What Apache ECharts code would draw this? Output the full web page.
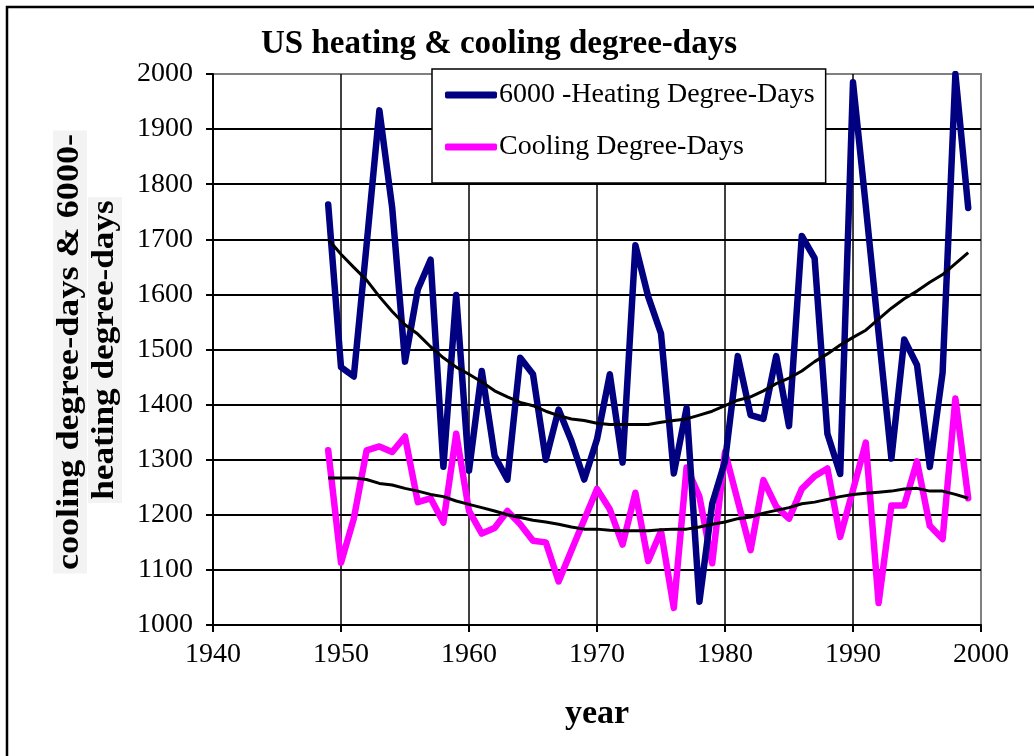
<!DOCTYPE html>
<html><head><meta charset="utf-8">
<script src="https://cdn.jsdelivr.net/npm/echarts@6/dist/echarts.min.js"></script>
<style>html,body{margin:0;padding:0;background:#fff}#c{width:1034px;height:756px}</style>
</head><body><div id="c"></div>
<script>
const years = [1949,1950,1951,1952,1953,1954,1955,1956,1957,1958,1959,1960,1961,1962,1963,1964,1965,1966,1967,1968,1969,1970,1971,1972,1973,1974,1975,1976,1977,1978,1979,1980,1981,1982,1983,1984,1985,1986,1987,1988,1989,1990,1991,1992,1993,1994,1995,1996,1997,1998,1999];
const heating = [1763,1468,1451,1690,1934,1757,1478,1609,1663,1287,1599,1280,1461,1307,1264,1485,1455,1300,1391,1334,1264,1337,1455,1295,1689,1596,1529,1275,1394,1042,1220,1297,1488,1381,1374,1488,1361,1706,1666,1347,1274,1985,1760,1530,1302,1518,1472,1287,1458,2000,1757];
const cooling = [1317,1113,1193,1317,1324,1314,1342,1223,1230,1186,1347,1207,1166,1176,1207,1183,1153,1150,1079,1135,1191,1247,1210,1146,1240,1116,1170,1031,1286,1233,1112,1314,1225,1136,1263,1215,1193,1247,1270,1284,1160,1245,1331,1040,1217,1217,1297,1180,1156,1411,1230];
const heatingTrend = [1700,1673,1649,1626,1596,1569,1545,1528,1505,1485,1468,1455,1441,1425,1414,1404,1398,1388,1380,1374,1371,1366,1364,1364,1364,1364,1368,1371,1374,1381,1388,1398,1408,1414,1425,1438,1448,1461,1478,1492,1508,1522,1535,1555,1575,1592,1606,1622,1636,1656,1676];
const coolingTrend = [1267,1267,1267,1264,1257,1254,1248,1243,1237,1233,1225,1219,1213,1207,1200,1195,1190,1187,1183,1178,1174,1174,1172,1171,1171,1171,1173,1174,1174,1178,1183,1187,1193,1196,1203,1208,1213,1220,1223,1228,1233,1237,1239,1241,1243,1247,1248,1243,1243,1237,1230];
const xTicks = [1940,1950,1960,1970,1980,1990,2000];
const yTicks = [1000,1100,1200,1300,1400,1500,1600,1700,1800,1900,2000];
const seriesNames = ['6000 -Heating Degree-Days','Cooling Degree-Days'];
const titleText = 'US heating & cooling degree-days';
const yTitle1 = 'cooling degree-days & 6000-';
const yTitle2 = 'heating degree-days';
const xTitle = 'year';

const pair = arr => years.map((y,i)=>[y,arr[i]]);
const serif = '"Liberation Serif","Times New Roman",serif';
const chart = echarts.init(document.getElementById('c'), null, {renderer:'canvas'});
chart.setOption({
  animation:false,
  backgroundColor:'#fff',
  grid:{left:213,right:53,top:74,bottom:131,show:true,borderColor:'#808080',borderWidth:2,backgroundColor:'#fff'},
  legend:{
    left:432, top:69, orient:'vertical',
    data:seriesNames,
    icon:'roundRect', itemWidth:52, itemHeight:7, itemGap:24,
    padding:[12,11,22,13],
    backgroundColor:'#fff', borderColor:'#000', borderWidth:1.5,
    textStyle:{fontFamily:serif,fontSize:28,color:'#000',padding:[0,0,0,-3]}
  },
  xAxis:{
    type:'value', min:xTicks[0], max:xTicks[xTicks.length-1], interval:10,
    axisLine:{show:true,onZero:false,lineStyle:{color:'#000',width:2}},
    axisTick:{show:true,length:7,lineStyle:{color:'#000',width:2}},
    axisLabel:{fontFamily:serif,fontSize:28,color:'#000',margin:16,formatter:v=>String(v)},
    splitLine:{show:true,showMaxLine:false,lineStyle:{color:'#000',width:1.5}},
    name:xTitle, nameLocation:'middle', nameGap:72,
    nameTextStyle:{fontFamily:serif,fontSize:34,fontWeight:'bold',color:'#000'}
  },
  yAxis:{
    type:'value', min:yTicks[0], max:yTicks[yTicks.length-1], interval:100,
    axisLine:{show:true,onZero:false,lineStyle:{color:'#000',width:2}},
    axisTick:{show:true,length:7,lineStyle:{color:'#000',width:2}},
    axisLabel:{fontFamily:serif,fontSize:28,color:'#000',margin:20,formatter:v=>String(v)},
    splitLine:{show:true,showMaxLine:false,lineStyle:{color:'#000',width:2}}
  },
  series:[
    {name:seriesNames[1],type:'line',data:pair(cooling),showSymbol:false,symbol:'none',
     lineStyle:{color:'#ff00ff',width:6.5,cap:'round',join:'round'},itemStyle:{color:'#ff00ff'},clip:true,z:3},
    {name:seriesNames[0],type:'line',data:pair(heating),showSymbol:false,symbol:'none',
     lineStyle:{color:'#000080',width:6.5,cap:'round',join:'round'},itemStyle:{color:'#000080'},clip:true,z:4},
    {name:'heatTrend',type:'line',data:pair(heatingTrend),showSymbol:false,symbol:'none',
     lineStyle:{color:'#000',width:3},itemStyle:{color:'#000'},z:5},
    {name:'coolTrend',type:'line',data:pair(coolingTrend),showSymbol:false,symbol:'none',
     lineStyle:{color:'#000',width:3},itemStyle:{color:'#000'},z:5}
  ],
  graphic:[
    {type:'rect',shape:{x:7,y:7,width:1100,height:800},style:{fill:'none',stroke:'#000',lineWidth:2.5},z:0,silent:true},
    {type:'text',x:499,y:44,style:{text:titleText,font:'bold 33px '+serif,fill:'#000',align:'center',verticalAlign:'middle'},z:10},
    {type:'text',x:70,y:352,rotation:Math.PI/2,scaleX:1.13,style:{text:yTitle1,font:'bold 32px '+serif,fill:'#000',align:'center',verticalAlign:'middle',backgroundColor:'#f3f3f3',padding:[1,3,1,3]},z:10},
    {type:'text',x:105,y:350,rotation:Math.PI/2,scaleX:1.1,style:{text:yTitle2,font:'bold 32px '+serif,fill:'#000',align:'center',verticalAlign:'middle',backgroundColor:'#f3f3f3',padding:[1,3,1,3]},z:10}
  ]
});
</script></body></html>
